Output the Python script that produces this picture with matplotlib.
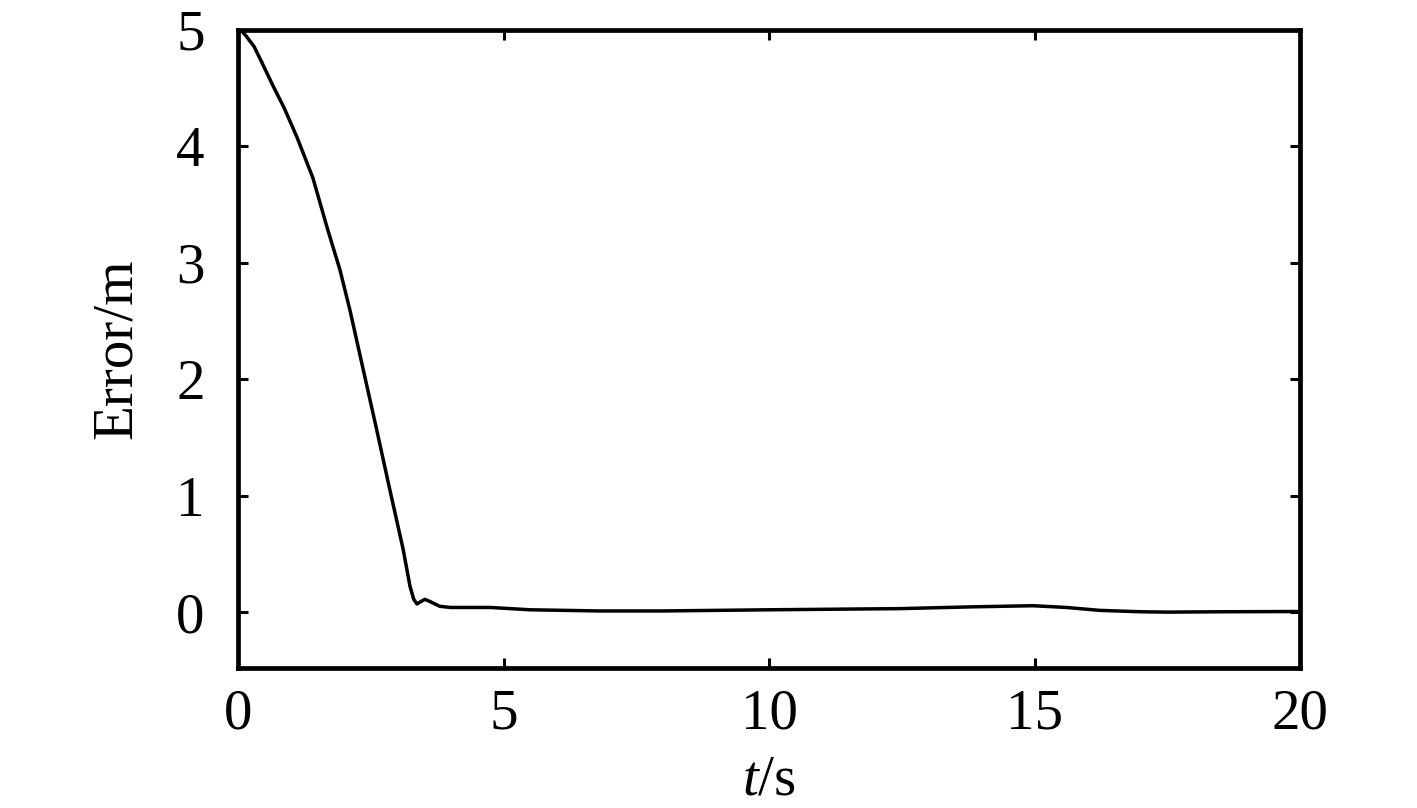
import numpy as np
from matplotlib import pyplot as plt

plt.rcParams['font.family'] = 'Liberation Serif'
plt.rcParams['mathtext.fontset'] = 'custom'
plt.rcParams['mathtext.rm'] = 'Liberation Serif'
plt.rcParams['mathtext.it'] = 'Liberation Serif:italic'

# values
time = [0, 0.07, 0.15, 0.3, 0.43, 0.66, 0.87, 1.11, 1.41, 1.68, 1.92, 2.11,
        2.36, 2.61, 2.86, 3.11, 3.24, 3.31, 3.37, 3.44, 3.52, 3.62, 3.80, 4.0,
        4.4, 4.75, 5.5, 6.8, 8.0, 10.0, 12.47, 13.8, 14.97, 15.6, 16.23, 17.0,
        17.5, 18.5, 19.8, 20]
error = [5.0, 4.99, 4.95, 4.86, 4.74, 4.52, 4.33, 4.08, 3.73, 3.30, 2.94, 2.59,
         2.08, 1.57, 1.05, 0.54, 0.22, 0.11, 0.07, 0.09, 0.11, 0.09, 0.05, 0.04,
         0.04, 0.04, 0.02, 0.01, 0.01, 0.02, 0.03, 0.045, 0.055, 0.04, 0.015,
         0.003, 0.0, 0.003, 0.005, 0.005]

xticks = [0, 5, 10, 15, 20]
yticks = [0, 1, 2, 3, 4, 5]

fig = plt.figure(figsize=(14.17, 8.08), dpi=100)
ax = fig.add_axes([238 / 1417, 140 / 808, 1062 / 1417, 638 / 808])

ax.plot(time, error, color='black', linewidth=2.5)

ax.set_xlim(0, 20)
ax.set_ylim(-0.48, 5)
ax.set_xticks(xticks)
ax.set_yticks(yticks)
ax.tick_params(direction='in', top=True, right=True, length=7, width=2.2,
               labelsize=41)
ax.tick_params(axis='x', pad=15)
ax.tick_params(axis='y', pad=24)
for s in ax.spines.values():
    s.set_linewidth(3.4)

ax.set_xlabel('$t$/s', fontsize=41, labelpad=10)
ax.set_ylabel('Error/m', fontsize=41, labelpad=24)

plt.savefig('out.png', dpi=100)
